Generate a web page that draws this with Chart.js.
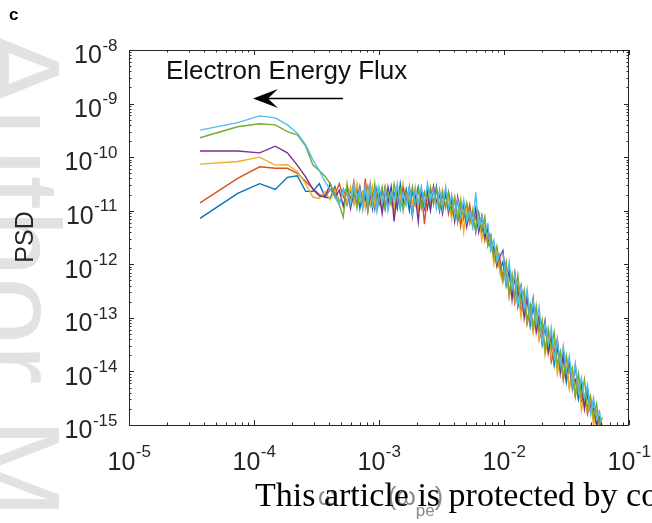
<!DOCTYPE html>
<html>
<head>
<meta charset="utf-8">
<script src="https://cdn.jsdelivr.net/npm/chart.js@4.4.0/dist/chart.umd.min.js"></script>
<style>
  html, body { margin: 0; padding: 0; background: #fff; overflow: hidden; }
  #wrap { position: relative; width: 652px; height: 523px; overflow: hidden; }
  #psdChart { position: absolute; left: 0; top: 0; }
  .watermark {
    position: absolute; left: 78px; top: 28px;
    transform-origin: left top; transform: rotate(90deg);
    font-family: 'Liberation Sans', Arial, sans-serif; font-size: 121px; line-height: 121px;
    color: #e2e2e2; white-space: nowrap;
  }
  .notice {
    position: absolute; left: 255px; top: 476px;
    font-family: 'Liberation Serif', 'DejaVu Serif', serif; font-size: 34px;
    color: #000; white-space: nowrap;
  }
</style>
</head>
<body>
<div id="wrap">
  <div class="watermark">Author Manuscript</div>
  <canvas id="psdChart" width="652" height="523"></canvas>
  <div class="notice">This article is protected by copyright. All rights reserved.</div>
</div>
<script>
// frequency samples (omega_pe units)
const freq = [
  3.7e-5, 7.4e-5, 1.11e-4, 1.48e-4, 1.85e-4, 2.22e-4, 2.59e-4, 2.96e-4, 3.33e-4, 3.7e-4,
  4.07e-4, 4.44e-4, 4.81e-4, 5.18e-4, 5.55e-4, 5.92e-4, 6.29e-4, 6.66e-4, 7.03e-4, 7.4e-4,
  7.77e-4, 8.14e-4, 8.51e-4, 8.88e-4, 9.25e-4, 9.62e-4,
  1.00e-3, 1.06e-3, 1.12e-3, 1.18e-3, 1.25e-3, 1.32e-3, 1.40e-3, 1.48e-3, 1.56e-3, 1.65e-3,
  1.75e-3, 1.85e-3, 1.95e-3, 2.06e-3, 2.18e-3, 2.31e-3, 2.44e-3, 2.58e-3, 2.73e-3, 2.88e-3,
  3.05e-3, 3.22e-3, 3.41e-3, 3.60e-3, 3.81e-3, 4.03e-3, 4.26e-3, 4.50e-3, 4.76e-3, 5.03e-3,
  5.32e-3, 5.62e-3, 5.94e-3, 6.28e-3, 6.64e-3, 7.02e-3, 7.42e-3, 7.84e-3, 8.29e-3, 8.77e-3,
  9.27e-3,
  9.80e-3, 1.04e-2, 1.10e-2, 1.16e-2, 1.22e-2, 1.29e-2, 1.37e-2, 1.45e-2, 1.53e-2, 1.62e-2,
  1.71e-2, 1.81e-2, 1.91e-2, 2.02e-2, 2.13e-2, 2.26e-2, 2.39e-2, 2.52e-2, 2.67e-2, 2.82e-2,
  2.98e-2, 3.15e-2, 3.33e-2, 3.52e-2, 3.72e-2, 3.94e-2, 4.16e-2, 4.40e-2, 4.65e-2, 4.92e-2,
  5.20e-2, 5.50e-2, 5.81e-2, 6.14e-2
];

const psdBlue = [
  7.2e-12, 2.1e-11, 3.2e-11, 2.5e-11, 4.2e-11, 4.5e-11, 2.3e-11, 2.3e-11, 3.2e-11, 1.8e-11, 1.7e-11, 2.8e-11, 1.4e-11, 2.5e-11,
  1.3e-11, 2.5e-11, 1.4e-11, 2.8e-11, 1.1e-11, 2.2e-11, 1.6e-11, 2.8e-11, 1.3e-11, 2.2e-11, 1.1e-11, 2.5e-11,
  1.3e-11, 2.5e-11, 1.1e-11, 2.8e-11, 1.4e-11, 2.2e-11, 1.1e-11, 3.2e-11, 1.4e-11, 2.5e-11, 1.0e-11, 2.2e-11, 1.6e-11, 2.8e-11, 1.3e-11, 2.2e-11, 1.1e-11, 2.5e-11, 1.4e-11, 2.8e-11,
  1.0e-11, 2.0e-11, 1.2e-11, 2.2e-11, 1.0e-11, 1.8e-11, 6.3e-12, 1.3e-11, 7.1e-12, 1.3e-11, 6.6e-12, 8.9e-12, 4.0e-12, 8.9e-12, 4.0e-12, 6.3e-12, 2.5e-12, 3.5e-12, 1.4e-12, 1.6e-12, 7.9e-13,
  1.1e-12, 4.0e-13, 7.9e-13, 2.8e-13, 6.0e-13, 1.6e-13, 2.8e-13, 1.3e-13, 2.4e-13, 7.1e-14, 1.7e-13, 6.8e-14, 1.0e-13, 3.2e-14, 7.1e-14, 2.5e-14, 3.7e-14,
  1.3e-14, 2.8e-14, 1.2e-14, 1.7e-14, 6.3e-15, 1.5e-14, 6.0e-15, 7.1e-15, 3.0e-15, 5.4e-15, 2.5e-15, 3.5e-15, 1.8e-15, 2.0e-15, 1.0e-15, 1.3e-15, 7.9e-16
];
const psdOrange = [
  1.4e-11, 4.0e-11, 6.6e-11, 6.2e-11, 6.2e-11, 5.0e-11, 3.5e-11, 2.6e-11, 2.0e-11, 1.8e-11, 2.5e-11, 2.0e-11, 3.2e-11, 1.8e-11,
  2.8e-11, 1.6e-11, 3.5e-11, 1.4e-11, 2.5e-11, 1.1e-11, 4.0e-11, 1.3e-11, 3.2e-11, 1.6e-11, 2.5e-11, 1.1e-11,
  2.2e-11, 1.1e-11, 2.8e-11, 1.4e-11, 2.5e-11, 1.0e-11, 2.2e-11, 1.3e-11, 2.8e-11, 1.4e-11, 2.5e-11, 7.9e-12, 2.2e-11, 1.1e-11, 2.5e-11, 5.6e-12, 2.2e-11, 1.3e-11, 2.8e-11, 1.4e-11,
  2.2e-11, 1.3e-11, 2.4e-11, 8.9e-12, 1.8e-11, 8.9e-12, 1.6e-11, 5.2e-12, 1.3e-11, 7.1e-12, 1.3e-11, 5.0e-12, 7.9e-12, 4.5e-12, 7.9e-12, 2.8e-12, 5.0e-12, 1.8e-12, 2.2e-12, 8.9e-13, 1.3e-12,
  5.6e-13, 1.0e-12, 2.5e-13, 4.5e-13, 1.9e-13, 4.0e-13, 1.3e-13, 2.3e-13, 7.6e-14, 1.4e-13, 5.9e-14, 1.3e-13, 4.0e-14, 6.3e-14, 2.5e-14, 5.0e-14, 1.5e-14,
  2.4e-14, 1.3e-14, 2.3e-14, 6.8e-15, 1.4e-14, 5.2e-15, 8.5e-15, 3.5e-15, 7.4e-15, 2.7e-15, 3.5e-15, 1.6e-15, 2.8e-15, 1.3e-15, 1.8e-15, 7.1e-16, 8.9e-16
];
const psdYellow = [
  7.4e-11, 8.3e-11, 1.0e-10, 7.1e-11, 7.2e-11, 5.4e-11, 3.2e-11, 1.8e-11, 1.7e-11, 2.3e-11, 1.6e-11, 2.5e-11, 1.4e-11, 2.2e-11,
  1.4e-11, 2.8e-11, 1.3e-11, 3.2e-11, 1.6e-11, 2.2e-11, 1.1e-11, 2.5e-11, 1.4e-11, 2.8e-11, 1.3e-11, 2.2e-11,
  2.5e-11, 1.3e-11, 2.8e-11, 1.6e-11, 2.2e-11, 1.1e-11, 2.5e-11, 1.4e-11, 3.2e-11, 1.3e-11, 2.2e-11, 1.4e-11, 2.8e-11, 1.1e-11, 2.2e-11, 1.4e-11, 2.5e-11, 1.1e-11, 2.2e-11, 1.6e-11,
  1.3e-11, 2.5e-11, 1.1e-11, 1.8e-11, 7.1e-12, 1.8e-11, 8.9e-12, 1.7e-11, 4.0e-12, 1.1e-11, 5.9e-12, 1.1e-11, 4.5e-12, 7.9e-12, 2.8e-12, 5.6e-12, 2.2e-12, 3.2e-12, 1.0e-12, 1.8e-12, 7.1e-13,
  4.5e-13, 8.9e-13, 2.5e-13, 6.3e-13, 2.1e-13, 3.2e-13, 1.0e-13, 2.6e-13, 8.5e-14, 1.6e-13, 5.2e-14, 1.2e-13, 4.0e-14, 8.9e-14, 2.0e-14, 4.0e-14, 1.9e-14,
  3.8e-14, 8.9e-15, 1.7e-14, 7.6e-15, 1.6e-14, 4.7e-15, 9.5e-15, 3.5e-15, 7.4e-15, 1.9e-15, 3.5e-15, 1.8e-15, 2.8e-15, 1.0e-15, 1.6e-15, 8.9e-16, 1.0e-15
];
const psdPurple = [
  1.3e-10, 1.3e-10, 1.2e-10, 1.6e-10, 1.2e-10, 7.1e-11, 4.3e-11, 2.5e-11, 1.9e-11, 1.8e-11, 3.2e-11, 1.8e-11, 2.4e-11, 1.2e-11,
  2.5e-11, 1.1e-11, 2.2e-11, 1.4e-11, 2.8e-11, 1.3e-11, 2.0e-11, 1.0e-11, 2.2e-11, 1.1e-11, 2.5e-11, 1.6e-11,
  2.2e-11, 8.9e-12, 2.5e-11, 1.4e-11, 2.8e-11, 6.3e-12, 2.2e-11, 1.1e-11, 2.5e-11, 1.4e-11, 2.8e-11, 8.9e-12, 2.0e-11, 6.3e-12, 2.5e-11, 1.1e-11, 2.2e-11, 1.0e-11, 2.8e-11, 1.4e-11,
  2.0e-11, 8.9e-12, 2.1e-11, 1.0e-11, 1.6e-11, 6.3e-12, 1.8e-11, 8.3e-12, 1.4e-11, 5.0e-12, 1.0e-11, 5.6e-12, 1.1e-11, 4.0e-12, 7.9e-12, 3.2e-12, 4.5e-12, 2.0e-12, 2.0e-12, 1.0e-12, 1.4e-12,
  1.8e-12, 5.0e-13, 7.9e-13, 2.2e-13, 6.8e-13, 2.5e-13, 4.0e-13, 1.0e-13, 2.7e-13, 1.0e-13, 2.3e-13, 5.4e-14, 1.1e-13, 4.5e-14, 8.9e-14, 2.2e-14, 4.7e-14,
  2.1e-14, 4.0e-14, 9.3e-15, 2.4e-14, 8.9e-15, 1.5e-14, 4.8e-15, 1.3e-14, 4.2e-15, 6.0e-15, 2.0e-15, 5.0e-15, 2.0e-15, 2.8e-15, 1.0e-15, 1.4e-15, 7.9e-16
];
const psdGreen = [
  2.3e-10, 3.7e-10, 4.2e-10, 4.0e-10, 3.0e-10, 2.6e-10, 1.6e-10, 7.1e-11, 5.6e-11, 4.4e-11, 3.2e-11, 2.0e-11, 1.3e-11, 7.6e-12,
  3.2e-11, 1.4e-11, 2.5e-11, 1.1e-11, 2.2e-11, 1.6e-11, 2.8e-11, 1.0e-11, 2.5e-11, 1.4e-11, 3.2e-11, 1.3e-11,
  1.4e-11, 2.8e-11, 1.1e-11, 2.2e-11, 1.3e-11, 3.2e-11, 1.6e-11, 2.5e-11, 1.0e-11, 2.2e-11, 1.4e-11, 2.8e-11, 1.3e-11, 2.5e-11, 1.1e-11, 2.2e-11, 1.6e-11, 2.8e-11, 1.3e-11, 2.5e-11,
  1.1e-11, 2.2e-11, 1.2e-11, 2.2e-11, 8.9e-12, 1.6e-11, 6.3e-12, 1.5e-11, 7.9e-12, 1.4e-11, 5.9e-12, 1.0e-11, 4.5e-12, 8.9e-12, 4.5e-12, 7.9e-12, 2.2e-12, 3.2e-12, 1.3e-12, 2.2e-12, 8.9e-13,
  5.0e-13, 1.1e-12, 2.8e-13, 6.3e-13, 2.4e-13, 6.3e-13, 1.8e-13, 3.3e-13, 8.5e-14, 1.8e-13, 6.6e-14, 1.7e-13, 5.6e-14, 8.9e-14, 2.5e-14, 6.3e-14, 2.6e-14,
  5.4e-14, 1.3e-14, 2.3e-14, 7.6e-15, 2.0e-14, 9.3e-15, 1.2e-14, 3.5e-15, 9.3e-15, 3.4e-15, 7.1e-15, 2.0e-15, 3.5e-15, 1.4e-15, 2.5e-15, 1.0e-15, 1.4e-15
];
const psdCyan = [
  3.2e-10, 4.4e-10, 5.9e-10, 5.4e-10, 4.0e-10, 2.8e-10, 1.7e-10, 8.9e-11, 5.6e-11, 3.5e-11, 2.5e-11, 1.8e-11, 1.3e-11, 2.5e-11,
  2.2e-11, 1.3e-11, 3.2e-11, 1.6e-11, 2.5e-11, 1.1e-11, 2.8e-11, 1.4e-11, 2.8e-11, 1.3e-11, 2.2e-11, 1.0e-11,
  2.8e-11, 1.4e-11, 2.5e-11, 1.0e-11, 2.2e-11, 1.6e-11, 3.2e-11, 1.1e-11, 2.2e-11, 1.3e-11, 2.8e-11, 8.9e-12, 2.5e-11, 1.4e-11, 2.8e-11, 1.3e-11, 3.2e-11, 1.6e-11, 2.5e-11, 1.1e-11,
  2.5e-11, 1.1e-11, 2.8e-11, 1.1e-11, 2.0e-11, 7.9e-12, 1.6e-11, 8.3e-12, 1.6e-11, 6.3e-12, 1.0e-11, 5.0e-12, 2.2e-11, 5.0e-12, 7.9e-12, 4.0e-12, 5.6e-12, 1.8e-12, 2.8e-12, 1.1e-12, 1.6e-12,
  1.6e-12, 4.5e-13, 1.1e-12, 3.5e-13, 6.8e-13, 1.8e-13, 4.0e-13, 1.5e-13, 3.4e-13, 8.9e-14, 2.1e-13, 7.6e-14, 1.6e-13, 3.5e-14, 7.9e-14, 3.2e-14, 6.6e-14,
  1.7e-14, 4.0e-14, 1.3e-14, 3.0e-14, 1.0e-14, 1.9e-14, 5.4e-15, 1.4e-14, 4.2e-15, 7.6e-15, 3.2e-15, 5.6e-15, 1.6e-15, 3.2e-15, 1.3e-15, 1.8e-15, 7.9e-16
];

const seriesValues = [psdBlue, psdOrange, psdYellow, psdPurple, psdGreen, psdCyan];
const seriesColors = ['#0072BD', '#D95319', '#EDB120', '#7E2F8E', '#77AC30', '#4DBEEE'];

// axis decades and their tick labels
const xTicks = [1e-5, 1e-4, 1e-3, 1e-2, 1e-1];
const xTickExp = ['-5', '-4', '-3', '-2', '-1'];
const yTicks = [1e-15, 1e-14, 1e-13, 1e-12, 1e-11, 1e-10, 1e-9, 1e-8];
const yTickExp = ['-15', '-14', '-13', '-12', '-11', '-10', '-9', '-8'];

const AXIS_COLOR = '#262626';
const BASE_FONT = '25px "Liberation Sans", Arial, sans-serif';
const EXP_FONT = '17px "Liberation Sans", Arial, sans-serif';

function powerLabel(ctx, exp, x, y, align) {
  // "10" with raised exponent, MATLAB style
  ctx.font = BASE_FONT;
  const wBase = ctx.measureText('10').width;
  ctx.font = EXP_FONT;
  const wExp = ctx.measureText(exp).width;
  let left;
  if (align === 'right') left = x - wBase - wExp;
  else left = x - (wBase + wExp) / 2;
  ctx.textAlign = 'left';
  ctx.textBaseline = 'alphabetic';
  ctx.font = BASE_FONT;
  ctx.fillText('10', left, y + 12.6);
  ctx.font = EXP_FONT;
  ctx.fillText(exp, left + wBase + 0.5, y);
}

const matlabAxes = {
  id: 'matlabAxes',
  afterDatasetsDraw(chart) {
    const { ctx, chartArea: a, scales: { x, y } } = chart;
    ctx.save();
    ctx.strokeStyle = AXIS_COLOR;
    ctx.fillStyle = AXIS_COLOR;
    ctx.lineWidth = 1;
    ctx.strokeRect(a.left + 0.5, a.top + 0.5, a.right - a.left - 1, a.bottom - a.top);

    ctx.beginPath();
    // x ticks, major and minor, pointing inwards on bottom and top
    for (let d = -5; d <= -1; d++) {
      for (let m = 1; m <= 9; m++) {
        const v = m * Math.pow(10, d);
        if (v > 0.1 * 1.0001) break;
        const px = Math.round(x.getPixelForValue(v)) + 0.5;
        const len = m === 1 ? 5 : 2.5;
        ctx.moveTo(px, a.bottom); ctx.lineTo(px, a.bottom - len);
        ctx.moveTo(px, a.top); ctx.lineTo(px, a.top + len);
      }
    }
    for (let d = -15; d <= -8; d++) {
      for (let m = 1; m <= 9; m++) {
        const v = m * Math.pow(10, d);
        if (v > 1e-8 * 1.0001) break;
        const py = Math.round(y.getPixelForValue(v)) + 0.5;
        const len = m === 1 ? 5 : 2.5;
        ctx.moveTo(a.left, py); ctx.lineTo(a.left + len, py);
        ctx.moveTo(a.right, py); ctx.lineTo(a.right - len, py);
      }
    }
    ctx.stroke();

    // tick labels
    xTicks.forEach((v, i) => {
      powerLabel(ctx, xTickExp[i], x.getPixelForValue(v), 457, 'center');
    });
    yTicks.forEach((v, i) => {
      powerLabel(ctx, yTickExp[i], 117, y.getPixelForValue(v) + 0.7, 'right');
    });

    // y title
    ctx.font = BASE_FONT;
    ctx.textAlign = 'center';
    ctx.textBaseline = 'middle';
    ctx.save();
    ctx.translate(26, 237);
    ctx.rotate(-Math.PI / 2);
    ctx.fillText('PSD', 0, 0);
    ctx.restore();

    // x title (mostly hidden under the notice)
    ctx.fillStyle = '#8a8a8a';
    ctx.textBaseline = 'alphabetic';
    ctx.textAlign = 'left';
    ctx.font = BASE_FONT;
    ctx.fillText('\u03c9', 318, 505);
    ctx.fillText('(\u03c9', 388, 505);
    const wOpen = ctx.measureText('(\u03c9').width;
    ctx.font = EXP_FONT;
    ctx.fillText('pe', 388 + wOpen, 516);
    const wSub = ctx.measureText('pe').width;
    ctx.font = BASE_FONT;
    ctx.fillText(')', 388 + wOpen + wSub, 505);

    // panel letter
    ctx.fillStyle = '#000';
    ctx.font = 'bold 17px "Liberation Sans", Arial, sans-serif';
    ctx.fillText('c', 9, 20);

    // annotation text and arrow
    ctx.fillStyle = '#111';
    ctx.font = '26px "Liberation Sans", Arial, sans-serif';
    ctx.fillText('Electron Energy Flux', 166, 79);

    ctx.strokeStyle = '#000';
    ctx.lineWidth = 1.5;
    ctx.beginPath();
    ctx.moveTo(343, 98.5); ctx.lineTo(268, 98.5);
    ctx.stroke();
    ctx.beginPath();
    ctx.moveTo(253, 98.5);
    ctx.lineTo(278, 89);
    ctx.lineTo(268, 98.5);
    ctx.lineTo(278, 108);
    ctx.closePath();
    ctx.fillStyle = '#000';
    ctx.fill();
    ctx.restore();
  }
};

const datasets = seriesValues.map((vals, i) => ({
  data: freq.map((f, k) => ({ x: f, y: vals[k] })),
  borderColor: seriesColors[i],
  borderWidth: 1.4,
  pointRadius: 0,
  fill: false,
  tension: 0,
  order: seriesValues.length - i
}));

new Chart(document.getElementById('psdChart'), {
  type: 'line',
  data: { datasets },
  options: {
    responsive: false,
    animation: false,
    events: [],
    layout: { padding: { left: 0, right: 23, top: 50, bottom: 0 } },
    plugins: { legend: { display: false }, tooltip: { enabled: false } },
    scales: {
      x: {
        type: 'logarithmic', min: 1e-5, max: 1e-1,
        grid: { display: false }, border: { display: false },
        ticks: { display: false },
        afterFit(scale) { scale.height = 98; }
      },
      y: {
        type: 'logarithmic', min: 1e-15, max: 1e-8,
        grid: { display: false }, border: { display: false },
        ticks: { display: false },
        afterFit(scale) { scale.width = 129; }
      }
    }
  },
  plugins: [matlabAxes]
});
</script>
</body>
</html>
